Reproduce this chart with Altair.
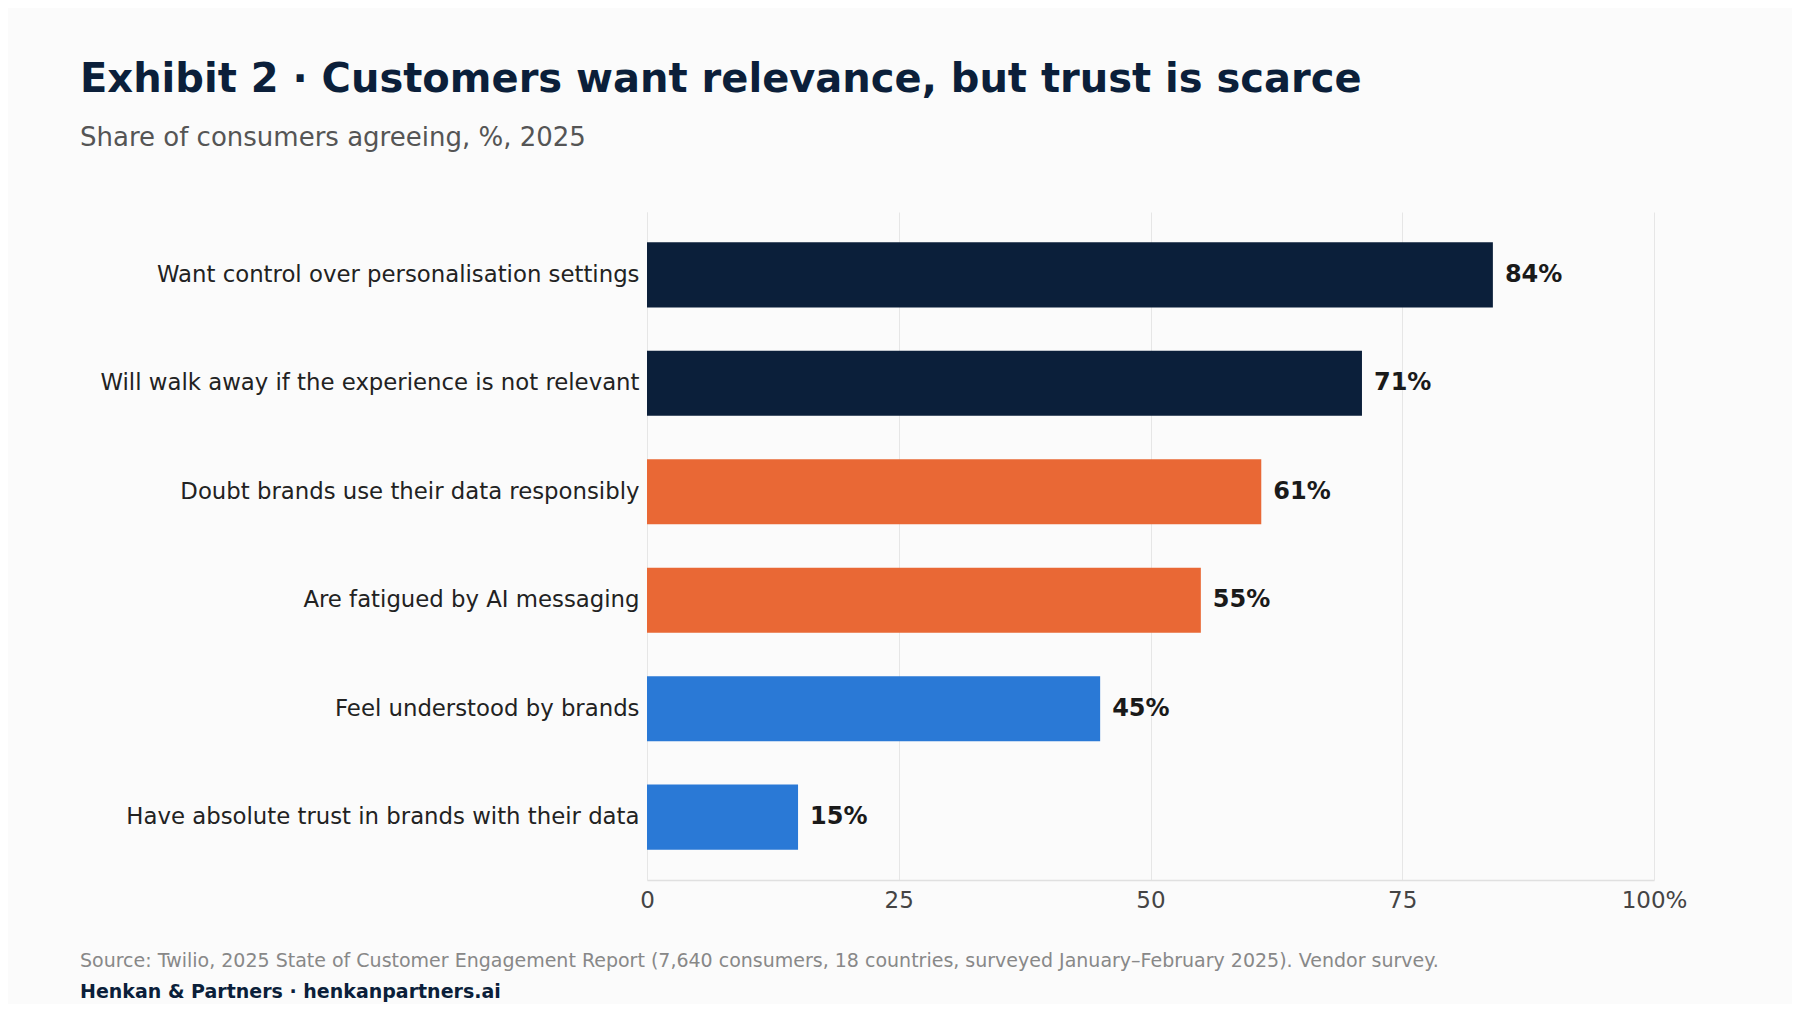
import altair as alt
import pandas as pd

categories = [
    "Want control over personalisation settings",
    "Will walk away if the experience is not relevant",
    "Doubt brands use their data responsibly",
    "Are fatigued by AI messaging",
    "Feel understood by brands",
    "Have absolute trust in brands with their data",
]
values = [84, 71, 61, 55, 45, 15]
bar_colors = ["#0b1f3a", "#0b1f3a", "#e96835", "#e96835", "#2a79d6", "#2a79d6"]
x_ticks = [0, 25, 50, 75, 100]

df = pd.DataFrame({
    "category": categories,
    "value": values,
    "color": bar_colors,
    "label": [f"{v}%" for v in values],
})

FONT = "DejaVu Sans"

y_enc = alt.Y(
    "category:N",
    sort=categories,
    title=None,
    scale=alt.Scale(paddingInner=0.4, paddingOuter=0.28),
    axis=alt.Axis(
        ticks=False,
        labelFontSize=22.8,
        labelColor="#222222",
        labelFont=FONT,
        labelPadding=8,
        labelLimit=800,
        domain=True,
        domainColor="#e6e6e6",
        domainWidth=1,
        grid=False,
    ),
)

x_enc = alt.X(
    "value:Q",
    title=None,
    scale=alt.Scale(domain=[0, 100], nice=False),
    axis=alt.Axis(
        values=x_ticks,
        labelExpr="datum.value == 100 ? '100%' : datum.label",
        ticks=False,
        labelFlush=False,
        labelFontSize=23,
        labelColor="#444444",
        labelFont=FONT,
        labelPadding=9,
        domain=True,
        domainColor="#e0e0e0",
        domainWidth=1.5,
        grid=True,
        gridColor="#e6e6e6",
        gridWidth=1,
    ),
)

bars = alt.Chart(df).mark_bar().encode(
    x=x_enc,
    y=y_enc,
    color=alt.Color("color:N", scale=None, legend=None),
)

labels = alt.Chart(df).mark_text(
    align="left", baseline="middle", dx=12, fontSize=24, fontWeight="bold",
    font=FONT, color="#1a1a1a",
).encode(
    x="value:Q",
    y=alt.Y("category:N", sort=categories),
    text="label:N",
)

footer_df = pd.DataFrame({"t": ["Source: Twilio, 2025 State of Customer Engagement Report (7,640 consumers, 18 countries, surveyed January\u2013February 2025). Vendor survey."]})
brand_df = pd.DataFrame({"t": ["Henkan & Partners \u00b7 henkanpartners.ai"]})

source = alt.Chart(footer_df).mark_text(
    align="left", baseline="alphabetic", fontSize=19, font=FONT, color="#888888",
).encode(x=alt.value(-567), y=alt.value(755), text="t:N")

brand = alt.Chart(brand_df).mark_text(
    align="left", baseline="alphabetic", fontSize=19, font=FONT, fontWeight="bold",
    color="#0b1f3a",
).encode(x=alt.value(-567), y=alt.value(786), text="t:N")

chart = alt.layer(bars, labels, source, brand).properties(
    width=1007,
    height=668,
    background="#fbfbfb",
    padding={"left": 639, "top": 204, "right": 138, "bottom": 124},
    autosize=alt.AutoSizeParams(type="none"),
    title=alt.TitleParams(
        text="Exhibit 2 \u00b7 Customers want relevance, but trust is scarce",
        subtitle="Share of consumers agreeing, %, 2025",
        anchor="start",
        frame="group",
        dx=-567,
        offset=61,
        font=FONT,
        fontSize=40,
        fontWeight="bold",
        color="#0b1f3a",
        subtitleFont=FONT,
        subtitleFontSize=26,
        subtitleColor="#555555",
        subtitlePadding=25,
    ),
).configure_view(stroke=None)

chart.save("out.html", embed_options={"renderer": "svg", "actions": False})
